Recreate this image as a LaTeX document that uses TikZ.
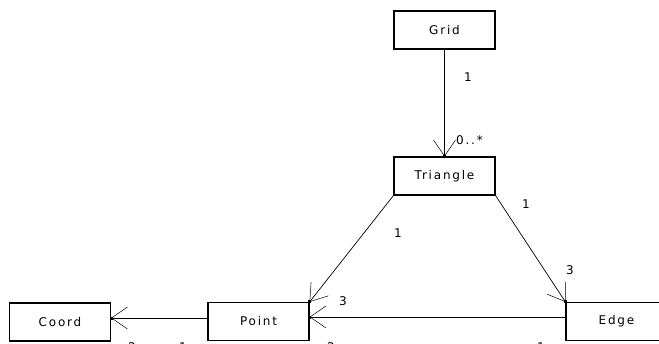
\documentclass[tikz,border=0pt]{standalone}
\usepackage{fontspec}
\newfontfamily\umlfont{DejaVu Sans}[LetterSpace=15]
\usetikzlibrary{arrows.meta,calc}
\begin{document}
\begin{tikzpicture}[x=1pt,y=-1pt,
  cls/.style={draw, line width=1.1pt, fill=white, minimum width=101pt,
    minimum height=38pt, inner sep=0pt, font=\umlfont\fontsize{12}{14}\selectfont},
  assoc/.style={line width=0.7pt,
    -{Straight Barb[length=16pt,width=22pt,line width=0.5pt]}},
  tipdot/.style={rectangle, fill=black, inner sep=0pt, minimum size=3pt},
  mult/.style={inner sep=0pt, font=\umlfont\fontsize{12}{14}\selectfont}]
\useasboundingbox (0,0) rectangle (659,343);
\clip (0,0) rectangle (659,343);

% classes
\node[cls] (grid)     at (444.5,30)  {Grid};
\node[cls] (triangle) at (444.5,176) {Triangle};
\node[cls] (point)    at (258.5,321.5) {Point};
\node[cls] (coord)    at (60,322)    {Coord};
\node[cls] (edge)     at (616.5,321.5) {Edge};

% attachment points of the horizontal associations
\coordinate (pe) at ([yshift=4.5pt]point.east);
\coordinate (ce) at ([yshift=4pt]coord.east);

% associations
\draw[assoc] (grid.south) -- (triangle.north);
\draw[assoc] (triangle.south west) -- (point.north east);
\draw[assoc] (triangle.south east) -- (edge.north west);
\draw[assoc] (edge.west |- pe) -- (pe);
\draw[assoc] (point.west |- ce) -- (ce);

% navigability dots
\node[tipdot] (d1) at (triangle.north) {};
\node[tipdot] (d2) at (point.north east) {};
\node[tipdot] (d3) at (edge.north west) {};
\node[tipdot] (d4) at (pe) {};
\node[tipdot] (d5) at (ce) {};

% multiplicities
\node[mult] (m1)  at (468,77)  {1};
\node[mult, anchor=west] (m2) at (456,140) {0..*};
\node[mult] (m3)  at (398,233) {1};
\node[mult] (m4)  at (526,204) {1};
\node[mult] (m5)  at (570,270) {3};
\node[mult] (m6)  at (343,301) {3};
\node[mult] (m7)  at (331,347) {2};
\node[mult] (m8)  at (541,347) {1};
\node[mult] (m9)  at (132,347) {2};
\node[mult] (m10) at (183,347) {1};
\end{tikzpicture}
\end{document}
